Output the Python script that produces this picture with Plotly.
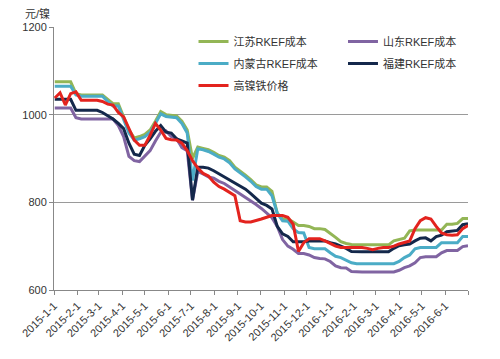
import pandas as pd
import plotly.graph_objects as go

dates = pd.date_range("2015-01-02", periods=79, freq="7D")

jiangsu = [1075, 1075, 1075, 1075, 1048, 1045, 1045, 1045, 1045, 1045,
           1035, 1025, 1025, 995, 965, 947, 950, 955, 965, 985,
           1007, 1000, 998, 997, 985, 965, 900, 926, 923, 920,
           914, 907, 903, 895, 880, 872, 862, 852, 840, 835,
           835, 825, 775, 762, 762, 755, 747, 747, 745, 740,
           740, 738, 730, 720, 710, 706, 704, 703, 703, 703,
           703, 703, 703, 703, 712, 715, 718, 735, 737, 737,
           737, 737, 737, 737, 750, 750, 752, 763, 763]

neimenggu = [1065, 1065, 1065, 1065, 1045, 1042, 1042, 1042, 1042, 1042,
             1030, 1020, 1020, 990, 958, 942, 945, 950, 960, 980,
             1002, 996, 994, 993, 980, 958, 850, 922, 920, 916,
             910, 903, 899, 890, 876, 868, 858, 848, 836, 830,
             830, 815, 775, 758, 757, 740, 731, 730, 697, 694,
             694, 694, 685, 677, 674, 668, 662, 660, 660, 660,
             660, 660, 660, 660, 660, 665, 674, 680, 694, 697,
             697, 697, 697, 708, 708, 708, 708, 722, 722]

shandong = [1015, 1015, 1015, 1015, 993, 990, 990, 990, 990, 990,
            990, 990, 975, 950, 905, 895, 893, 905, 918, 940,
            960, 963, 950, 945, 925, 918, 805, 870, 865, 858,
            855, 848, 843, 835, 827, 820, 812, 805, 795, 786,
            775, 765, 745, 715, 700, 693, 683, 683, 680, 674,
            672, 671, 665, 655, 651, 650, 642, 641, 641, 641,
            641, 641, 641, 641, 641, 645, 651, 655, 662, 674,
            676, 676, 676, 685, 690, 690, 690, 699, 701]

fujian = [1035, 1035, 1035, 1035, 1010, 1010, 1010, 1010, 1010, 1005,
          998, 990, 980, 968, 935, 910, 907, 930, 945, 962,
          975, 960, 958, 945, 940, 935, 805, 880, 880, 878,
          872, 865, 858, 852, 845, 838, 830, 820, 810, 798,
          793, 785, 745, 728, 722, 710, 710, 710, 712, 712,
          712, 712, 708, 705, 700, 695, 688, 687, 687, 687,
          687, 687, 687, 687, 695, 701, 703, 705, 712, 718,
          719, 712, 722, 725, 733, 735, 736, 749, 751]

price = [1038, 1050, 1022, 1048, 1052, 1033, 1033, 1033, 1033, 1030,
         1024, 1022, 1005, 995, 970, 942, 930, 930, 953, 980,
         965, 946, 943, 942, 935, 918, 895, 878, 866, 860,
         846, 836, 830, 823, 815, 758, 755, 755, 758, 762,
         766, 770, 770, 770, 766, 750, 688, 708, 717, 717,
         717, 712, 706, 700, 697, 697, 697, 697, 697, 695,
         692, 695, 697, 697, 700, 705, 708, 712, 740, 758,
         765, 762, 745, 730, 726, 725, 726, 740, 747]

tick_dates = ["2015-01-01", "2015-02-01", "2015-03-01", "2015-04-01", "2015-05-01",
              "2015-06-01", "2015-07-01", "2015-08-01", "2015-09-01", "2015-10-01",
              "2015-11-01", "2015-12-01", "2016-01-01", "2016-02-01", "2016-03-01",
              "2016-04-01", "2016-05-01", "2016-06-01", "2016-07-01"]
tick_labels = ["2015-1-1", "2015-2-1", "2015-3-1", "2015-4-1", "2015-5-1",
               "2015-6-1", "2015-7-1", "2015-8-1", "2015-9-1", "2015-10-1",
               "2015-11-1", "2015-12-1", "2016-1-1", "2016-2-1", "2016-3-1",
               "2016-4-1", "2016-5-1", "2016-6-1", ""]

FONT = "Liberation Sans, Arial, Noto Sans CJK SC, sans-serif"

series = [
    ("江苏RKEF成本", jiangsu, "#93B656", "legend"),
    ("内蒙古RKEF成本", neimenggu, "#4BACC6", "legend"),
    ("高镍铁价格", price, "#E3231E", "legend"),
    ("山东RKEF成本", shandong, "#8064A2", "legend2"),
    ("福建RKEF成本", fujian, "#14284B", "legend2"),
]
draw_order = [0, 3, 1, 4, 2]

fig = go.Figure()
for k in draw_order:
    name, vals, col, lg = series[k]
    fig.add_trace(go.Scatter(
        x=dates, y=vals, mode="lines", name=name, legendgroup=name,
        line=dict(color=col, width=3), legend=lg,
    ))

leg_common = dict(yanchor="top", xanchor="left", bgcolor="rgba(0,0,0,0)",
                  font=dict(size=11, color="#333"), tracegroupgap=3,
                  traceorder="grouped", itemwidth=30)

fig.update_layout(
    width=500, height=359,
    margin=dict(l=36, r=40, t=19, b=77),
    paper_bgcolor="white", plot_bgcolor="white",
    font=dict(family=FONT, size=11, color="#404040"),
    showlegend=True,
    legend=dict(x=0.337, y=1.0, **leg_common),
    legend2=dict(x=0.698, y=1.0, **leg_common),
    xaxis=dict(
        type="date", range=["2015-01-01", "2016-07-01"],
        tickmode="array", tickvals=tick_dates, ticktext=tick_labels,
        tickangle=-45, ticks="outside", ticklen=4, tickcolor="#888",
        showline=True, linecolor="#888", linewidth=1,
        showgrid=False, zeroline=False,
        tickfont=dict(size=11, color="#333"),
    ),
    yaxis=dict(
        range=[600, 1200], tickvals=[600, 800, 1000, 1200],
        ticks="outside", ticklen=4, tickcolor="#888",
        showline=True, linecolor="#888", linewidth=1,
        showgrid=True, gridcolor="#9a9a9a", gridwidth=1,
        zeroline=False, tickfont=dict(size=11, color="#333"),
    ),
    annotations=[dict(
        text="元/镍", xref="paper", yref="paper",
        x=-0.075, y=1.053, xanchor="left", yanchor="middle",
        showarrow=False, font=dict(size=11, color="#333"),
    )],
)

fig.write_html("out.html")
